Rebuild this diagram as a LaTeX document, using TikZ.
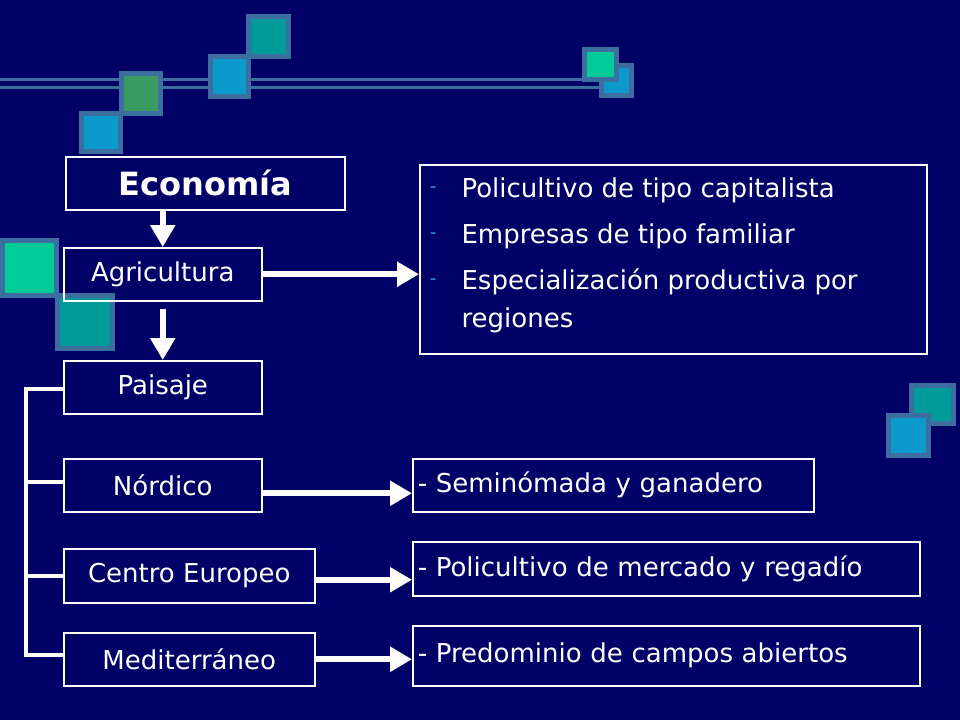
\documentclass[tikz,border=0pt]{standalone}
\usepackage{fontspec}
\setmainfont{DejaVu Sans}
\usetikzlibrary{arrows.meta}
\definecolor{bgblue}{HTML}{000066}
\definecolor{frame}{HTML}{3C6EA0}
\definecolor{sqgreen}{HTML}{3A9A60}
\definecolor{sqblue}{HTML}{0A9ACC}
\definecolor{sqteal}{HTML}{009A9A}
\definecolor{sqmint}{HTML}{00CC99}
\definecolor{dashblue}{HTML}{3A9AE0}
\begin{document}
\begin{tikzpicture}[x=1pt, y=-1pt,
  box/.style={draw=white, line width=1.5pt, text=white, anchor=north west, inner sep=0pt,
    font=\fontsize{26}{31}\selectfont},
  flow/.style={-{Triangle[length=22pt,width=24pt]}, white, line width=6pt},
  tie/.style={white, line width=4pt},
  sq/.style={draw=frame, line width=5pt},
  deco/.style={frame, line width=3pt},
  item/.style={text=white, anchor=west, font=\fontsize{26}{31}\selectfont},
  bulletmark/.style={text=dashblue, font=\fontsize{18}{20}\selectfont},
]
\fill[bgblue] (0,0) rectangle (960,720);
\useasboundingbox (0,0) rectangle (960,720);

% --- decoration ---
\draw[deco] (0,79) -- (600,79);
\draw[deco] (0,87) -- (600,87);
\filldraw[sq, fill=sqteal] (248,16) rectangle (288,56);
\filldraw[sq, fill=sqblue] (210,56) rectangle (248,96);
\filldraw[sq, fill=sqgreen] (121,73) rectangle (160,113);
\filldraw[sq, fill=sqblue] (81,113) rectangle (120,151);
\filldraw[sq, fill=sqblue] (601,65) rectangle (631,95);
\filldraw[sq, fill=sqmint] (584,49) rectangle (616,79);
\filldraw[sq, fill=sqmint] (2,240) rectangle (56,295);
\filldraw[sq, fill=sqteal] (57,295) rectangle (112,348);
\filldraw[sq, fill=sqteal] (911,385) rectangle (953,423);
\filldraw[sq, fill=sqblue] (888,415) rectangle (928,455);

% --- boxes ---
\node[box, minimum width=279pt, minimum height=53pt, font=\fontsize{32}{38}\selectfont\bfseries]
  (eco) at (65,156) {Economía};
\node[box, minimum width=198pt, minimum height=53pt] (agr) at (63,247) {Agricultura};
\node[box, minimum width=198pt, minimum height=53pt] (pai) at (63,360) {Paisaje};
\node[box, minimum width=198pt, minimum height=53pt] (nor) at (63,458) {Nórdico};
\node[box, minimum width=251pt, minimum height=54pt] (cen) at (63,548) {Centro Europeo};
\node[box, minimum width=251pt, minimum height=53pt] (med) at (63,632) {Mediterráneo};

\node[box, minimum width=507pt, minimum height=189pt] (pol) at (419,164) {};
\node[bulletmark] (d1) at (433,190) {-};
\node[bulletmark] (d2) at (433,236) {-};
\node[bulletmark] (d3) at (433,282) {-};
\node[item] (p1) at (458,190) {Policultivo de tipo capitalista};
\node[item] (p2) at (458,236) {Empresas de tipo familiar};
\node[item] (p3) at (458,282) {Especialización productiva por};
\node[item] (p4) at (458,320) {regiones};

\node[box, minimum width=401pt, minimum height=53pt, text width=391pt, align=left] (sem) at (412,458) {- Seminómada y ganadero};
\node[box, minimum width=507pt, minimum height=54pt, text width=497pt, align=left] (mer) at (412,541) {- Policultivo de mercado y regadío};
\node[box, minimum width=507pt, minimum height=60pt, text width=497pt, align=left] (cam) at (412,625) {- Predominio de campos abiertos};

% --- arrows ---
\draw[flow] (agr.north |- eco.south) -- (agr.north);
\draw[flow] ([yshift=-7pt]agr.south) -- (pai.north);
\draw[flow] (agr.east) -- (pol.west |- agr.east);
\draw[flow] ([yshift=-8pt]nor.east) -- ([yshift=-8pt]sem.west);
\draw[flow] ([yshift=-4pt]cen.east) -- ([yshift=-4pt]cen.east -| mer.west);
\draw[flow] (med.east) -- (med.east -| cam.west);

% bracket
\coordinate (top) at (26,389);
\coordinate (bot) at (26,655);
\draw[tie] (pai.west |- top) -- (top) -- (bot) -- (med.west |- bot);
\draw[tie] (top |- 0,482) -- (nor.west |- 0,482);
\draw[tie] (top |- cen.west) -- (cen.west);
\end{tikzpicture}
\end{document}
